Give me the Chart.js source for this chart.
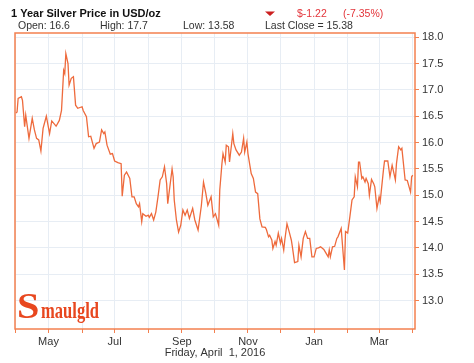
<!DOCTYPE html>
<html><head><meta charset="utf-8">
<script src="https://cdn.jsdelivr.net/npm/chart.js@4"></script>
<style>
html,body{margin:0;padding:0;background:#fff;}
canvas{display:block;}
</style></head><body>
<canvas id="c" width="474" height="363"></canvas>
<script>
// Day offsets from April 1, 2015
const days = [0,1,2,5,6,8,9,12,15,17,19,21,23,25,28,31,33,37,40,42,44,45,46,48,49,51,53,55,57,61,62,65,67,69,72,74,77,79,81,82,84,87,89,91,94,97,98,100,102,105,107,109,111,113,114,116,117,120,122,123,125,127,129,131,133,135,137,139,140,144,145,146,148,150,152,154,156,158,160,163,165,168,171,173,175,177,180,182,184,187,188,190,191,193,194,196,197,200,201,203,206,208,210,211,213,214,217,219,221,223,225,227,230,231,233,234,236,237,239,240,242,244,245,247,248,250,252,254,255,257,260,261,263,265,267,269,271,273,275,277,279,281,284,286,288,289,290,292,294,296,297,300,303,304,306,308,310,312,313,315,316,317,319,320,322,323,325,326,328,330,331,333,335,336,339,340,343,345,347,350,351,353,355,356,359,361,364,365,366];
const prices = [16.56,16.58,16.84,16.87,16.80,16.30,16.52,16.08,16.46,16.24,16.08,16.05,15.84,16.27,16.50,16.17,16.41,16.31,16.42,16.61,17.37,17.31,17.69,17.50,17.09,17.22,17.25,16.71,16.65,16.68,16.61,16.49,16.11,16.12,15.89,15.98,16.01,16.24,16.17,16.20,15.95,15.78,15.79,15.65,15.62,15.60,14.98,15.38,15.44,15.32,14.97,14.97,14.84,14.78,14.84,14.50,14.65,14.60,14.62,14.58,14.65,14.53,14.68,14.97,15.29,15.35,15.54,15.22,14.84,15.50,15.35,14.91,14.53,14.30,14.43,14.72,14.62,14.72,14.56,14.75,14.53,14.34,14.80,15.25,15.05,14.81,14.97,14.59,14.65,14.43,15.10,15.60,15.79,15.63,15.95,15.92,15.63,16.17,15.98,15.86,15.76,15.82,16.08,15.82,16.01,15.79,15.41,15.32,15.06,15.03,14.55,14.40,14.39,14.35,14.21,14.24,14.15,13.99,14.12,14.05,14.28,14.09,14.18,13.96,14.15,14.46,14.31,14.15,14.02,13.72,13.74,14.05,13.83,14.18,14.31,14.18,14.18,13.83,13.83,13.99,14.00,14.02,13.97,13.90,13.83,13.96,13.83,14.02,14.03,14.18,14.21,14.37,13.58,14.31,14.28,14.59,14.91,14.97,15.35,15.16,15.63,15.63,15.32,15.35,15.25,15.32,15.22,15.00,15.30,15.22,15.16,14.75,14.97,14.88,15.48,15.65,15.65,15.35,15.57,15.29,15.60,15.92,15.86,15.89,15.29,15.28,15.06,15.35,15.38];
const monthTicks = [0,30,61,91,122,153,183,214,244,275,306,335,366];
const monthLabels = ['','May','','Jul','','Sep','','Nov','','Jan','','Mar',''];
const yTicks = [13.0,13.5,14.0,14.5,15.0,15.5,16.0,16.5,17.0,17.5,18.0];
const titleText = '1 Year Silver Price in USD/oz';
const statLabels = ['Open: 16.6','High: 17.7','Low: 13.58','Last Close = 15.38'];
const changeLabels = ['$-1.22','(-7.35%)'];
const dateTitle = 'Friday, April  1, 2016';

const LINE = '#ee6a3c';
const BORDER = '#f3804f';
const GRID = '#e7edf4';
const TXT = '#333333';
const RED = '#e3343a';
const FONT = '"Liberation Sans", Arial, sans-serif';

const decor = {
  id: 'decor',
  afterDatasetsDraw(chart) {
    const {ctx, chartArea: a} = chart;
    ctx.save();
    ctx.strokeStyle = BORDER;
    ctx.lineWidth = 1.5;
    ctx.strokeRect(a.left, a.top, a.right - a.left, a.bottom - a.top);
    // logo
    ctx.fillStyle = '#e8471f';
    ctx.textBaseline = 'alphabetic';
    ctx.save();
    ctx.translate(17, 318);
    ctx.scale(1.15, 1);
    ctx.font = 'bold 35px "Liberation Serif", serif';
    ctx.fillText('S', 0, 0);
    ctx.restore();
    ctx.save();
    ctx.translate(41, 318);
    ctx.scale(0.72, 1);
    ctx.font = 'bold 23px "Liberation Serif", serif';
    ctx.fillText('maulgld', 0, 0);
    ctx.restore();
    ctx.restore();
  },
  afterDraw(chart) {
    const {ctx} = chart;
    ctx.save();
    ctx.textBaseline = 'alphabetic';
    ctx.fillStyle = '#111';
    ctx.font = 'bold 11px ' + FONT;
    ctx.fillText(titleText, 11, 17);
    ctx.fillStyle = TXT;
    ctx.font = '10.5px ' + FONT;
    const xs = [18, 100, 183, 265];
    statLabels.forEach((s, i) => ctx.fillText(s, xs[i], 29));
    ctx.fillStyle = RED;
    ctx.fillText(changeLabels[0], 297, 17);
    ctx.fillText(changeLabels[1], 343, 17);
    ctx.fillStyle = '#cc1f1f';
    ctx.beginPath();
    ctx.moveTo(265, 11.5);
    ctx.lineTo(275, 11.5);
    ctx.lineTo(270, 16);
    ctx.closePath();
    ctx.fill();
    ctx.restore();
  }
};

new Chart(document.getElementById('c'), {
  type: 'line',
  data: {
    datasets: [{
      data: days.map((d, i) => ({x: d, y: prices[i]})),
      borderColor: LINE,
      borderWidth: 1.3,
      pointRadius: 0,
      tension: 0,
      fill: false
    }]
  },
  options: {
    responsive: false,
    animation: false,
    devicePixelRatio: 1,
    layout: {padding: {left: 15, top: 33, right: 0, bottom: 0}},
    plugins: {legend: {display: false}, tooltip: {enabled: false}},
    scales: {
      x: {
        type: 'linear',
        min: -0.9,
        max: 368.1,
        afterFit(s) { s.height = 34; },
        afterBuildTicks(s) { s.ticks = monthTicks.map(v => ({value: v})); },
        grid: {color: GRID, tickColor: BORDER, tickLength: 4, lineWidth: 1},
        border: {display: false},
        ticks: {
          autoSkip: false, maxRotation: 0, padding: 2,
          color: TXT, font: {family: FONT, size: 11},
          callback: (v, i) => monthLabels[i]
        },
        title: {display: true, text: dateTitle, color: TXT,
          font: {family: FONT, size: 11, lineHeight: 1.2}, padding: {top: 0, bottom: 3.5}}
      },
      y: {
        position: 'right',
        min: 12.46,
        max: 18.08,
        afterFit(s) { s.width = 59; },
        afterBuildTicks(s) { s.ticks = yTicks.map(v => ({value: v})); },
        grid: {color: GRID, tickColor: BORDER, tickLength: 4, lineWidth: 1},
        border: {display: false},
        ticks: {
          padding: 3, color: TXT, font: {family: FONT, size: 11},
          callback: v => Number(v).toFixed(1)
        }
      }
    }
  },
  plugins: [decor]
});
</script>
</body></html>
